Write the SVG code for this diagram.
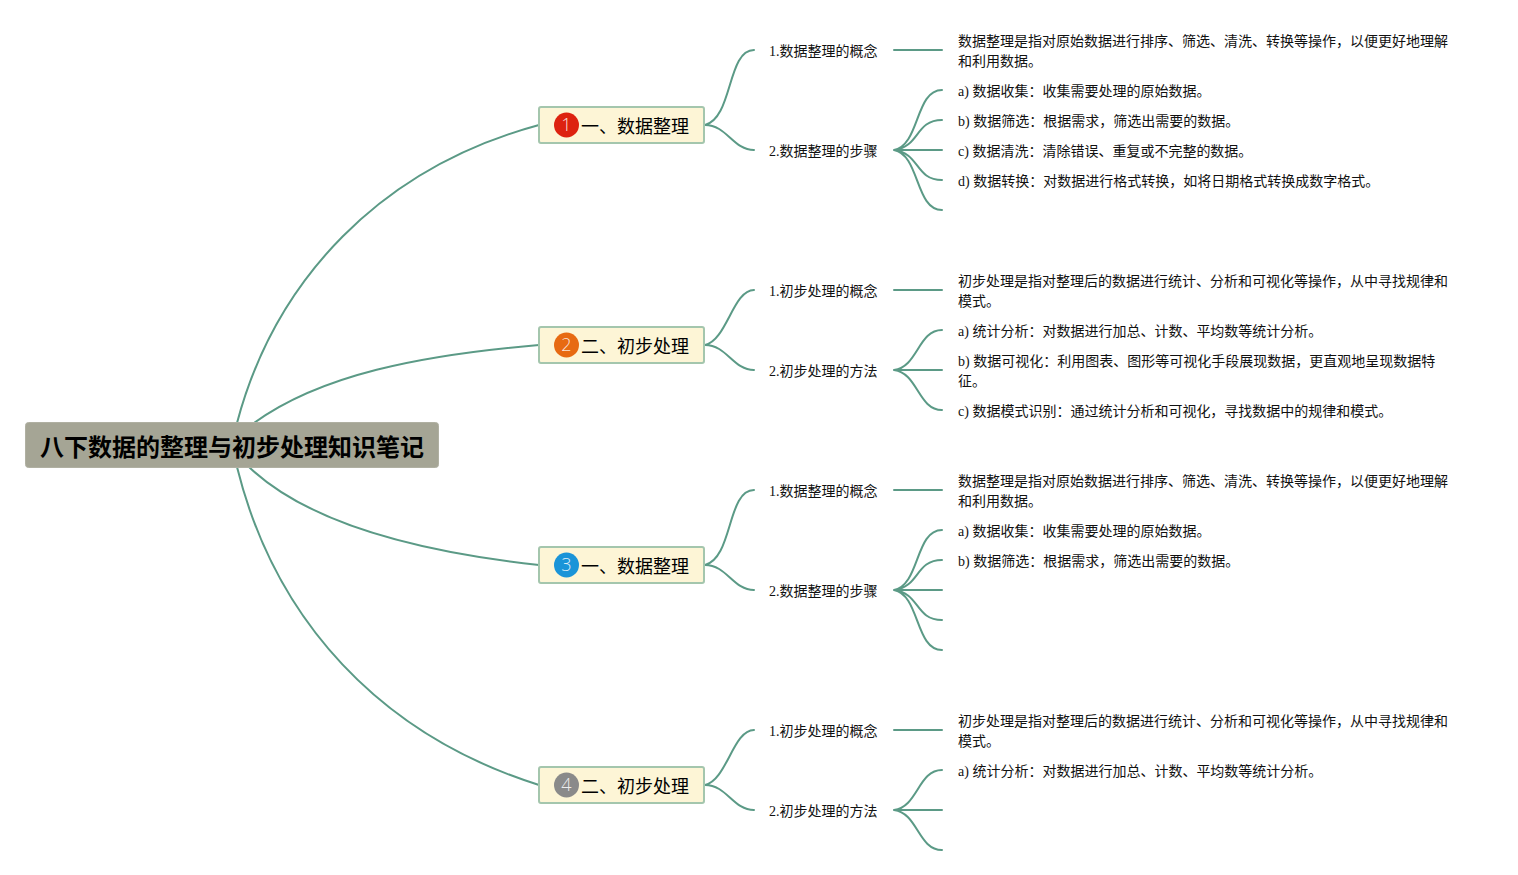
<svg xmlns="http://www.w3.org/2000/svg" width="1518" height="875" viewBox="0 0 1518 875">
<style>
text{font-family:"Liberation Serif","Noto Sans CJK SC",serif;fill:#111}
.c{fill:none;stroke:#5b9a86;stroke-width:2;stroke-linecap:round}
.r{fill:#a5a595;stroke:#b0b0a2;stroke-width:1}
.rt{font-family:"Noto Sans CJK SC",sans-serif;font-size:24px;font-weight:700;fill:#000}
.b{fill:#fdf5d6;stroke:#a4c6ad;stroke-width:2}
.bt{font-family:"Noto Sans CJK SC",sans-serif;font-size:18px;fill:#000}
.n{font-family:"Open Sans",sans-serif;font-size:18px;font-weight:300;fill:#fff;fill-opacity:.85;text-anchor:middle}
.t{font-size:14px}
</style>
<g id="connectors">
<path class="c" d="M237 423C275 280 380 168 539 125"/>
<path class="c" d="M254 423C320 375 420 355 539 345"/>
<path class="c" d="M249 467C310 525 420 552 539 565"/>
<path class="c" d="M237 467C275 620 380 735 539 785"/>
<path class="c" d="M705 125C733 118 727 50 754 50M705 125C727 125 733 150 754 150"/>
<path class="c" d="M705 345C727 340 733 290 754 290M705 345C727 345 733 370 754 370"/>
<path class="c" d="M705 565C733 558 727 490 754 490M705 565C727 565 733 590 754 590"/>
<path class="c" d="M705 785C727 780 733 730 754 730M705 785C727 785 733 810 754 810"/>
<path class="c" d="M894 50H942"/>
<path class="c" d="M894 150C920 145 915 90 942 90M894 150C920 147 915 120 942 120M894 150H942M894 150C920 153 915 180 942 180M894 150C920 155 915 210 942 210"/>
<path class="c" d="M894 290H942"/>
<path class="c" d="M894 370C918 367 918 330 942 330M894 370H942M894 370C918 373 918 410 942 410"/>
<path class="c" d="M894 490H942"/>
<path class="c" d="M894 590C920 585 915 530 942 530M894 590C920 587 915 560 942 560M894 590H942M894 590C920 593 915 620 942 620M894 590C920 595 915 650 942 650"/>
<path class="c" d="M894 730H942"/>
<path class="c" d="M894 810C918 807 918 770 942 770M894 810H942M894 810C918 813 918 850 942 850"/>
</g>
<g id="root"><rect class="r" x="25.500" y="422.500" width="413" height="45" rx="3"/><text class="rt" x="40" y="456">八下数据的整理与初步处理知识笔记</text></g>
<g id="branch1"><rect class="b" x="539" y="107" width="165" height="36" rx="2"/><circle cx="566.500" cy="125" r="12.500" fill="#dd2210"/><text class="n" x="566.500" y="131">1</text><text class="bt" x="581" y="133">一、数据整理</text></g>
<g id="branch2"><rect class="b" x="539" y="327" width="165" height="36" rx="2"/><circle cx="566.500" cy="345" r="12.500" fill="#e76a12"/><text class="n" x="566.500" y="351">2</text><text class="bt" x="581" y="353">二、初步处理</text></g>
<g id="branch3"><rect class="b" x="539" y="547" width="165" height="36" rx="2"/><circle cx="566.500" cy="565" r="12.500" fill="#1a94d8"/><text class="n" x="566.500" y="571">3</text><text class="bt" x="581" y="573">一、数据整理</text></g>
<g id="branch4"><rect class="b" x="539" y="767" width="165" height="36" rx="2"/><circle cx="566.500" cy="785" r="12.500" fill="#8a8a8a"/><text class="n" x="566.500" y="791">4</text><text class="bt" x="581" y="793">二、初步处理</text></g>
<g id="s1"><text class="t" x="769" y="56">1.数据整理的概念</text></g>
<g id="s2"><text class="t" x="769" y="156">2.数据整理的步骤</text></g>
<g id="s3"><text class="t" x="769" y="296">1.初步处理的概念</text></g>
<g id="s4"><text class="t" x="769" y="376">2.初步处理的方法</text></g>
<g id="s5"><text class="t" x="769" y="496">1.数据整理的概念</text></g>
<g id="s6"><text class="t" x="769" y="596">2.数据整理的步骤</text></g>
<g id="s7"><text class="t" x="769" y="736">1.初步处理的概念</text></g>
<g id="s8"><text class="t" x="769" y="816">2.初步处理的方法</text></g>
<g id="d1"><text class="t" x="958" y="46">数据整理是指对原始数据进行排序、筛选、清洗、转换等操作，以便更好地理解</text><text class="t" x="958" y="66">和利用数据。</text></g>
<g id="d2"><text class="t" x="958" y="96">a) 数据收集：收集需要处理的原始数据。</text></g>
<g id="d3"><text class="t" x="958" y="126">b) 数据筛选：根据需求，筛选出需要的数据。</text></g>
<g id="d4"><text class="t" x="958" y="156">c) 数据清洗：清除错误、重复或不完整的数据。</text></g>
<g id="d5"><text class="t" x="958" y="186">d) 数据转换：对数据进行格式转换，如将日期格式转换成数字格式。</text></g>
<g id="d6"><text class="t" x="958" y="286">初步处理是指对整理后的数据进行统计、分析和可视化等操作，从中寻找规律和</text><text class="t" x="958" y="306">模式。</text></g>
<g id="d7"><text class="t" x="958" y="336">a) 统计分析：对数据进行加总、计数、平均数等统计分析。</text></g>
<g id="d8"><text class="t" x="958" y="366">b) 数据可视化：利用图表、图形等可视化手段展现数据，更直观地呈现数据特</text><text class="t" x="958" y="386">征。</text></g>
<g id="d9"><text class="t" x="958" y="416">c) 数据模式识别：通过统计分析和可视化，寻找数据中的规律和模式。</text></g>
<g id="d10"><text class="t" x="958" y="486">数据整理是指对原始数据进行排序、筛选、清洗、转换等操作，以便更好地理解</text><text class="t" x="958" y="506">和利用数据。</text></g>
<g id="d11"><text class="t" x="958" y="536">a) 数据收集：收集需要处理的原始数据。</text></g>
<g id="d12"><text class="t" x="958" y="566">b) 数据筛选：根据需求，筛选出需要的数据。</text></g>
<g id="d13"><text class="t" x="958" y="726">初步处理是指对整理后的数据进行统计、分析和可视化等操作，从中寻找规律和</text><text class="t" x="958" y="746">模式。</text></g>
<g id="d14"><text class="t" x="958" y="776">a) 统计分析：对数据进行加总、计数、平均数等统计分析。</text></g>
</svg>
